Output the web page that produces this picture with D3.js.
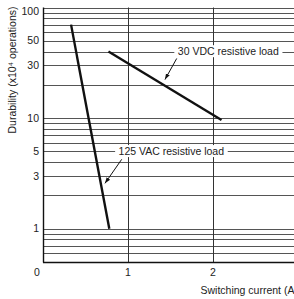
<!DOCTYPE html>
<html>
<head>
<meta charset="utf-8">
<script src="https://cdn.jsdelivr.net/npm/d3@7.9.0/dist/d3.min.js"></script>
<style>
  html, body { margin: 0; padding: 0; background: #fff; overflow: hidden; }
  svg { display: block; font-family: 'Liberation Sans', Arial, sans-serif; }
</style>
</head>
<body>
<div id="chart"></div>
<script>
// switching current (A) -> durability (x10^4 operations)
const vac125 = [
  { amps: 0.33, life: 70 },
  { amps: 0.78, life: 1 },
];
const vdc30 = [
  { amps: 0.77, life: 40 },
  { amps: 2.1, life: 9.6 },
];

const xTicks = [0, 1, 2, 3];
const yLabelTicks = [100, 50, 30, 10, 5, 3, 1];

const notes = [
  { text: '30 VDC resistive load', amps: 2.18, life: 40, tip: [1.435, 22.3], tail: [1.573, 34.6] },
  { text: '125 VAC resistive load', amps: 1.51, life: 5, tip: [0.729, 2.57], tail: [0.926, 4.24] },
];

const width = 294;
const height = 299;
const plot = { left: 43, right: 298, top: 7.5, bottom: 262 };

const x = d3.scaleLinear().domain([0, 3]).range([plot.left, plot.right]);
const y = d3.scaleLog().domain([0.5, 100]).range([plot.bottom, plot.top]);

const svg = d3.select('#chart').append('svg')
  .attr('width', width)
  .attr('height', height);

svg.append('defs').append('marker')
  .attr('id', 'head')
  .attr('viewBox', '0 0 10 10')
  .attr('refX', 10)
  .attr('refY', 5)
  .attr('markerWidth', 6)
  .attr('markerHeight', 6)
  .attr('orient', 'auto')
  .append('path')
  .attr('d', 'M0,1.5 L10,5 L0,8.5 Z')
  .attr('fill', '#111');

// horizontal grid
svg.append('g')
  .selectAll('line')
  .data(y.ticks())
  .join('line')
  .attr('x1', plot.left)
  .attr('x2', plot.right)
  .attr('y1', (d) => Math.round(y(d)) + 0.5)
  .attr('y2', (d) => Math.round(y(d)) + 0.5)
  .attr('stroke', '#555')
  .attr('stroke-width', 1);

// vertical grid
svg.append('g')
  .selectAll('line')
  .data(xTicks.slice(1))
  .join('line')
  .attr('x1', (d) => Math.round(x(d)) + 0.5)
  .attr('x2', (d) => Math.round(x(d)) + 0.5)
  .attr('y1', plot.top)
  .attr('y2', plot.bottom)
  .attr('stroke', '#333')
  .attr('stroke-width', 1);

// axes frame
svg.append('line')
  .attr('x1', plot.left + 0.5).attr('x2', plot.left + 0.5)
  .attr('y1', plot.top).attr('y2', plot.bottom + 0.5)
  .attr('stroke', '#111').attr('stroke-width', 1.4);
svg.append('line')
  .attr('x1', plot.left).attr('x2', plot.right)
  .attr('y1', Math.round(plot.bottom) + 0.5).attr('y2', Math.round(plot.bottom) + 0.5)
  .attr('stroke', '#111').attr('stroke-width', 1.4);

// tick labels
svg.append('g')
  .selectAll('text')
  .data(yLabelTicks)
  .join('text')
  .attr('x', plot.left - 4)
  .attr('y', (d) => y(d) + (d === 100 ? 4 : 0))
  .attr('dy', '0.35em')
  .attr('text-anchor', 'end')
  .attr('font-size', 10.5)
  .attr('fill', '#222')
  .text((d) => d);

svg.append('g')
  .selectAll('text')
  .data(xTicks)
  .join('text')
  .attr('x', (d) => x(d) - (d === 0 ? 6 : 0))
  .attr('y', plot.bottom + 7)
  .attr('dy', '0.71em')
  .attr('text-anchor', 'middle')
  .attr('font-size', 10.5)
  .attr('fill', '#222')
  .text((d) => d);

// axis titles
svg.append('text')
  .attr('transform', `translate(16, 70) rotate(-90)`)
  .attr('text-anchor', 'middle')
  .attr('font-size', 10.5)
  .attr('fill', '#222')
  .text('Durability (x10⁴ operations)');

svg.append('text')
  .attr('x', 200.5)
  .attr('y', 294)
  .attr('font-size', 10.5)
  .attr('fill', '#222')
  .text('Switching current (A)');

// curves
const line = d3.line().x((d) => x(d.amps)).y((d) => y(d.life));
for (const series of [vac125, vdc30]) {
  svg.append('path')
    .datum(series)
    .attr('d', line)
    .attr('fill', 'none')
    .attr('stroke', '#111')
    .attr('stroke-width', 2.4);
}

// annotations
for (const n of notes) {
  const g = svg.append('g');
  const t = g.append('text')
    .attr('x', x(n.amps))
    .attr('y', y(n.life))
    .attr('dy', '0.35em')
    .attr('text-anchor', 'middle')
    .attr('font-size', 10.5)
    .attr('fill', '#222')
    .text(n.text);
  const bb = t.node().getBBox();
  g.insert('rect', 'text')
    .attr('x', bb.x - 3.5)
    .attr('y', bb.y)
    .attr('width', bb.width + 7)
    .attr('height', bb.height)
    .attr('fill', '#fff');
  svg.append('line')
    .attr('x1', x(n.tail[0]))
    .attr('y1', y(n.tail[1]))
    .attr('x2', x(n.tip[0]))
    .attr('y2', y(n.tip[1]))
    .attr('stroke', '#111')
    .attr('stroke-width', 1)
    .attr('marker-end', 'url(#head)');
}
</script>
</body>
</html>
